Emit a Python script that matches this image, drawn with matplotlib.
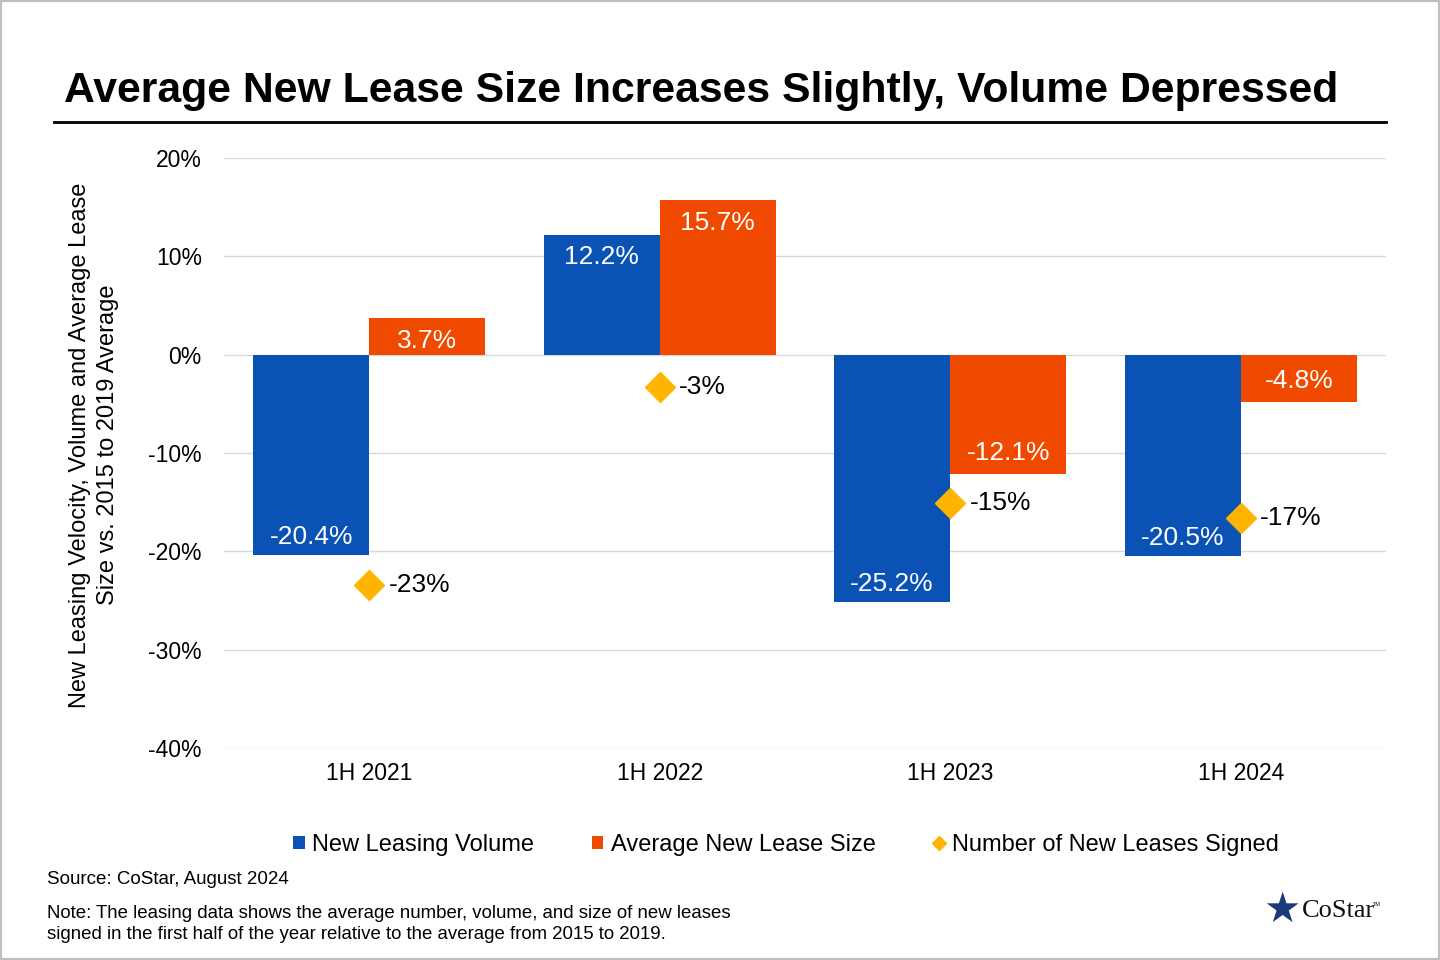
import matplotlib.pyplot as plt
from matplotlib.lines import Line2D
from matplotlib.patches import Patch, Rectangle
import numpy as np

plt.rcParams["font.family"] = ["Liberation Sans", "DejaVu Sans"]

categories = ["1H 2021", "1H 2022", "1H 2023", "1H 2024"]
leasing_volume = [-20.4, 12.2, -25.2, -20.5]
lease_size = [3.7, 15.7, -12.1, -4.8]
leases_signed = [-23.4, -3.3, -15.1, -16.6]

BLUE = "#0A52B4"
ORANGE = "#F04A00"
GOLD = "#FFB400"

fig = plt.figure(figsize=(14.4, 9.6), dpi=100)
ax = fig.add_axes([224 / 1440, 1 - 748 / 960, 1162 / 1440, 590 / 960])

x = np.arange(len(categories))
w = 0.4
ax.bar(x - w / 2, leasing_volume, width=w, color=BLUE, zorder=2)
ax.bar(x + w / 2, lease_size, width=w, color=ORANGE, zorder=2)
ax.plot(x, leases_signed, linestyle="none", marker="D", markersize=15,
        color=GOLD, zorder=3)

for xi, v in zip(x - w / 2, leasing_volume):
    off = -16 if v > 0 else 13
    ax.annotate(f"{v:.1f}%", (xi, v), xytext=(0, off), textcoords="offset points",
                ha="center", va="center", color="white", fontsize=19)
for xi, v in zip(x + w / 2, lease_size):
    off = -16 if v > 0 else 15
    ax.annotate(f"{v:.1f}%", (xi, v), xytext=(0, off), textcoords="offset points",
                ha="center", va="center", color="white", fontsize=19)
for xi, v in zip(x, leases_signed):
    ax.annotate(f"{v:.0f}%", (xi, v), xytext=(14, 0), textcoords="offset points",
                ha="left", va="center", color="black", fontsize=19)

ax.set_xlim(-0.5, 3.5)
ax.set_ylim(-40, 20)
ax.set_yticks(range(-40, 21, 10))
ax.set_yticklabels([f"{t}%" for t in range(-40, 21, 10)])
ax.set_xticks(x)
ax.set_xticklabels(categories)
ax.tick_params(axis="y", length=0, pad=16, labelsize=16.5)
ax.tick_params(axis="x", length=0, pad=10, labelsize=16.5)
ax.grid(axis="y", color="#D9D9D9", linewidth=1, zorder=0)
for s in ax.spines.values():
    s.set_visible(False)

fig.text(94 / 1440, 1 - 445 / 960,
         "New Leasing Velocity, Volume and Average Lease\nSize vs. 2015 to 2019 Average",
         rotation=90, ha="center", va="center", fontsize=17, linespacing=1.3)

fig.text(64 / 1440, 1 - 91 / 960,
         "Average New Lease Size Increases Slightly, Volume Depressed",
         ha="left", va="center", fontsize=30.8, fontweight="bold")
fig.add_artist(Line2D([54 / 1440, 1386 / 1440], [1 - 122 / 960] * 2,
                      color="black", linewidth=2))

handles = [
    Patch(facecolor=BLUE, label="New Leasing Volume"),
    Patch(facecolor=ORANGE, label="Average New Lease Size"),
    Line2D([], [], linestyle="none", marker="D", markersize=7, color=GOLD,
           label="Number of New Leases Signed"),
]
fig.legend(handles=handles, loc="center", bbox_to_anchor=(786 / 1440, 1 - 845 / 960),
           ncol=3, frameon=False, fontsize=17, handlelength=0.5, handleheight=0.5,
           handletextpad=0.3, columnspacing=2.45)

fig.text(47 / 1440, 1 - 880 / 960, "Source: CoStar, August 2024",
         ha="left", va="center", fontsize=13.5)
fig.text(47 / 1440, 1 - 924 / 960,
         "Note: The leasing data shows the average number, volume, and size of new leases\n"
         "signed in the first half of the year relative to the average from 2015 to 2019.",
         ha="left", va="center", fontsize=13.4, linespacing=1.3)

# logo
fig.text(1302 / 1440, 1 - 911 / 960, "CoStar", ha="left", va="center",
         fontsize=19, family="Liberation Serif", color="#111111")
fig.text(1373 / 1440, 1 - 905 / 960, "TM", ha="left", va="center",
         fontsize=4, color="#111111")
fig.text(1282 / 1440, 1 - 910 / 960, "\u2605", ha="center", va="center",
         fontsize=30, color="#1B3A7A", family="DejaVu Sans")

fig.add_artist(Rectangle((0, 0), 1, 1, transform=fig.transFigure, fill=False,
                         edgecolor="#BFBFBF", linewidth=3))

fig.savefig("out.png", dpi=100)
